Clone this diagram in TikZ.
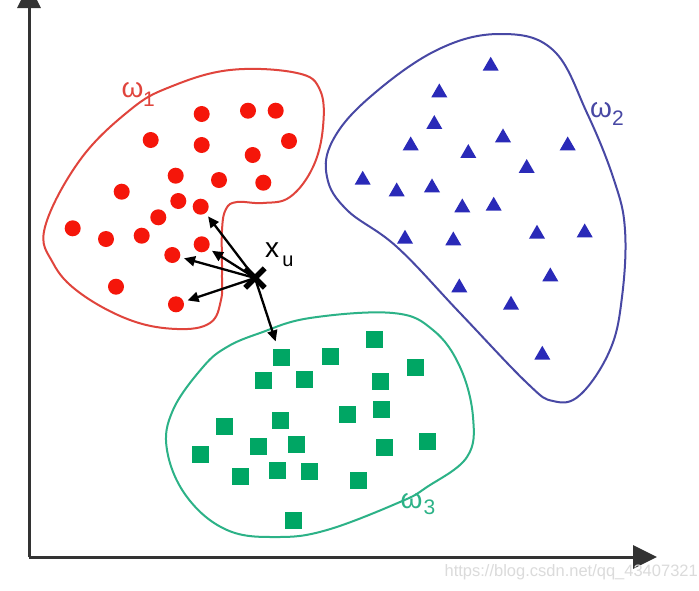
\documentclass[tikz,border=0pt]{standalone}
\usepackage{fontspec}
\setmainfont{Liberation Sans}
\usetikzlibrary{arrows.meta,shapes.geometric,shapes.misc}
\definecolor{reddot}{HTML}{F5160A}
\definecolor{redline}{HTML}{E0443C}
\definecolor{bluetri}{HTML}{2A2AB8}
\definecolor{blueline}{HTML}{4848A4}
\definecolor{greensq}{HTML}{00A664}
\definecolor{greenline}{HTML}{2CB287}
\definecolor{axisgray}{HTML}{333333}
\begin{document}
\begin{tikzpicture}[x=1pt,y=-1pt,
  rdot/.style={circle,fill=reddot,inner sep=0pt,minimum size=16pt},
  btri/.style={regular polygon,regular polygon sides=3,fill=bluetri,inner sep=0pt,minimum size=18.5pt},
  gsq/.style={rectangle,fill=greensq,inner sep=0pt,minimum size=17pt},
  blob/.style={line width=2pt},
  axis/.style={line width=3pt,draw=axisgray,-{Triangle[length=24pt,width=23pt]}},
  near/.style={line width=2.3pt,-{Triangle[length=11pt,width=10pt]},shorten >=4pt},
  lbl/.style={inner sep=0pt,font=\fontsize{28}{28}\selectfont},
  sub/.style={inner sep=0pt,font=\fontsize{21}{21}\selectfont}]
\clip (0,0) rectangle (699,590);
\fill[white] (0,0) rectangle (699,590);
% axes
\coordinate (o) at (29,557);
\coordinate (ytip) at (29,-16);
\coordinate (xtip) at (657,557);
\draw[axis] (o) -- (ytip);
\draw[axis] (o) -- (xtip);
% outlines
\draw[blob,redline] plot[smooth cycle,tension=0.65] coordinates {(45,227) (80,160) (130,110) (170,87) (230,70) (297,73) (320,90) (323,127) (313,167) (290,197) (263,203) (237,202) (226,209) (222,230) (222,273) (221,300) (210,323) (177,329) (130,320) (80,293) (53,263)};
\draw[blob,blueline] plot[smooth cycle,tension=0.65] coordinates {(500,34) (553,50) (587,113) (614,180) (625,230) (622,297) (610,350) (580,395) (553,401) (527,383) (460,313) (397,247) (347,210) (327,177) (333,140) (370,97) (437,50)};
\draw[blob,greenline] plot[smooth cycle,tension=0.65] coordinates {(260,333) (310,318) (393,313) (433,330) (460,367) (473,417) (467,457) (427,487) (400,502) (327,530) (277,537) (227,530) (187,497) (167,450) (173,410) (203,367) (227,347)};
% red dots
\foreach \x/\y [count=\i] in {201.7/114,248/110.7,275.7/110.7,150.7/140,201.7/145,289/141,252.7/155,175.7/175.7,219/180,263.3/182.7,121.7/191.7,178.3/201,200.7/206.7,158.3/217.3,72.7/228.3,106/239,141.7/235.7,201.7/244.3,172.3/255,116/286.7,176/304.3}
  \node[rdot] (r\i) at (\x,\y) {};
% blue triangles
\foreach \x/\y [count=\i] in {490.7/66,439.3/92.7,434.3/124.3,410.7/145.7,503/137.7,468.3/153.3,567.7/145.7,526.7/168.3,362.7/180,396.7/191.7,432/187.7,462.3/207.7,493.7/206,405/239,453.3/240.7,537/234,584.7/232.7,550.3/276.7,459.3/287.7,511/305,542.3/355}
  \node[btri] (b\i) at (\x,\y) {};
% green squares
\foreach \x/\y [count=\i] in {281/357.7,330.7/356,374.3/339,415.3/367.3,263.3/380.7,304.3/379,380/381.7,280/420.7,347.3/414.3,381/409,224.3/426,258.3/446.7,296/444,200/454.3,384/447.7,427.3/441,240.7/476,277.3/470.7,309.3/471,358/480,293.3/520.7}
  \node[gsq] (g\i) at (\x,\y) {};
% unknown sample
\node[cross out,draw=black,line width=5.5pt,minimum size=14pt,inner sep=0pt] (xu) at (255,278) {};
\draw[near] (xu.center) -- (r13);
\draw[near] (xu.center) -- (r18);
\draw[near] (xu.center) -- (r19);
\draw[near] (xu.center) -- (r21);
\draw[near,shorten >=8pt] (xu.center) -- (g1);
\node[inner sep=0pt,font=\fontsize{28}{28}\selectfont] (xl) at (272,250) {x};
\node[inner sep=0pt,font=\fontsize{20}{20}\selectfont] (ul) at (288,261.5) {u};
% class labels
\node[lbl,text=redline] (w1) at (132.5,90) {ω};
\node[sub,text=redline] (w1s) at (149,99) {1};
\node[lbl,text=blueline] (w2) at (601,110.5) {ω};
\node[sub,text=blueline] (w2s) at (618,118) {2};
\node[lbl,text=greenline] (w3) at (411.5,501.5) {ω};
\node[sub,text=greenline] (w3s) at (429.5,507) {3};
% watermark
\node[inner sep=0pt,anchor=east,text=black!14,font=\fontsize{16.5}{16.5}\selectfont] (wm) at (698,572) {https://blog.csdn.net/qq\_43407321};
\end{tikzpicture}
\end{document}
